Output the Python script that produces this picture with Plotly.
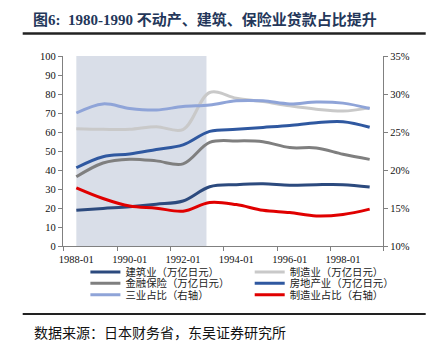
import plotly.graph_objects as go

years = [1988, 1989, 1990, 1991, 1992, 1993, 1994, 1995, 1996, 1997, 1998, 1999]
construction = [18.8, 19.8, 20.7, 22.0, 23.7, 31.2, 32.3, 32.7, 32.0, 32.3, 32.3, 31.0]
manufacturing = [61.7, 61.4, 61.4, 62.8, 61.3, 80.8, 77.8, 76.0, 73.8, 72.0, 71.0, 72.7]
finance = [36.4, 43.7, 45.7, 44.8, 43.2, 54.5, 55.3, 54.9, 51.8, 51.6, 48.3, 45.6]
real_estate = [41.2, 47.0, 48.4, 50.8, 53.2, 60.3, 61.4, 62.4, 63.4, 64.9, 65.4, 62.5]
tertiary_share = [27.5, 28.7, 28.1, 27.9, 28.35, 28.55, 29.1, 29.1, 28.7, 28.95, 28.8, 28.1]
manuf_share = [17.65, 16.25, 15.25, 14.98, 14.58, 15.73, 15.45, 14.7, 14.4, 13.95, 14.15, 14.85]

tick_years = [1988, 1990, 1992, 1994, 1996, 1998]
tick_text = ["1988-01", "1990-01", "1992-01", "1994-01", "1996-01", "1998-01"]
minor_ticks = [1987.5, 1989.525, 1991.525, 1993.525, 1995.525, 1997.525, 1999.5]
shade_start, shade_end = 1988.0, 1992.88

W, H = 436, 353
L, R, T, B = 63.3, 383.3, 56.0, 245.7
def px_x(p):
    return (p - L) / (R - L)
def px_y(p):
    return (B - p) / (B - T)

serif = "Liberation Serif, Times New Roman, serif"
cjk = "Liberation Serif, Noto Sans CJK SC, serif"

series = [
    ("建筑业（万亿日元）", construction, "#2C4A7E", "y", (85.7, 271.7)),
    ("制造业（万亿日元）", manufacturing, "#C9C9C9", "y", (250.0, 271.7)),
    ("金融保险（万亿日元）", finance, "#7F7F7F", "y", (85.7, 283.0)),
    ("房地产业（万亿日元）", real_estate, "#2F58A0", "y", (250.0, 283.0)),
    ("三业占比（右轴）", tertiary_share, "#8FA4D8", "y2", (85.7, 294.3)),
    ("制造业占比（右轴）", manuf_share, "#E00000", "y2", (250.0, 294.3)),
]

fig = go.Figure()
legend_layouts = {}
for i, (name, vals, col, ax, pos) in enumerate(series):
    lg = "legend" if i == 0 else f"legend{i + 1}"
    fig.add_trace(go.Scatter(
        x=years, y=vals, name=name, mode="lines", yaxis=ax, legend=lg,
        line=dict(color=col, width=3, shape="spline", smoothing=1.0),
    ))
    legend_layouts[lg] = dict(
        x=px_x(pos[0]), y=px_y(pos[1]), xanchor="left", yanchor="middle",
        orientation="v", itemwidth=30, bgcolor="rgba(0,0,0,0)", borderwidth=0,
        font=dict(family="Noto Sans CJK SC", size=10.4, color="#222222"),
    )

fig.add_shape(type="rect", xref="x", yref="y", x0=shade_start, x1=shade_end,
              y0=0, y1=100, fillcolor="#D9DEE8", line=dict(width=0), layer="below")

# title underline and source separator
fig.add_shape(type="line", xref="paper", yref="paper", x0=px_x(23), x1=px_x(426),
              y0=px_y(33.5), y1=px_y(33.5), line=dict(color="#222222", width=2.5))
fig.add_shape(type="line", xref="paper", yref="paper", x0=px_x(23), x1=px_x(426),
              y0=px_y(313.5), y1=px_y(313.5), line=dict(color="#222222", width=2))

fig.add_annotation(text="数据来源：日本财务省，东吴证券研究所", xref="paper", yref="paper",
                   x=px_x(32), y=px_y(332), xanchor="left", yanchor="middle",
                   showarrow=False, font=dict(family="Noto Sans CJK SC", size=14, color="#111111"))

fig.update_layout(
    width=W, height=H,
    margin=dict(l=L, r=W - R, t=T, b=H - B, pad=0),
    paper_bgcolor="white", plot_bgcolor="white",
    title=dict(text="<b>图6:  1980-1990 不动产、建筑、保险业贷款占比提升</b>",
               x=33 / W, xanchor="left", y=1 - 19.5 / H, yanchor="middle",
               font=dict(family=cjk, size=15, color="#24375A")),
    xaxis=dict(range=[1987.5, 1999.5], tickmode="array", tickvals=tick_years,
               ticktext=tick_text, ticks="", showgrid=False, zeroline=False,
               showline=True, linecolor="#808080", linewidth=1.3, ticklabelstandoff=3,
               tickfont=dict(family=serif, size=10.5, color="#111111"),
               minor=dict(tickmode="array", tickvals=minor_ticks, ticks="outside",
                          ticklen=4, tickcolor="#808080", tickwidth=1, showgrid=False)),
    yaxis=dict(range=[0, 100], dtick=10, ticks="outside", ticklen=4, tickcolor="#808080",
               showgrid=False, zeroline=False, showline=True, linecolor="#808080",
               linewidth=1.3, tickfont=dict(family=serif, size=10.5, color="#111111")),
    yaxis2=dict(range=[10, 35], dtick=5, ticksuffix="%", overlaying="y", side="right",
                ticks="outside", ticklen=4, tickcolor="#808080", showgrid=False,
                zeroline=False, showline=True, linecolor="#808080", linewidth=1.3,
                tickfont=dict(family=serif, size=10.5, color="#111111")),
    showlegend=True,
    **legend_layouts,
)

fig.write_html("out.html")
